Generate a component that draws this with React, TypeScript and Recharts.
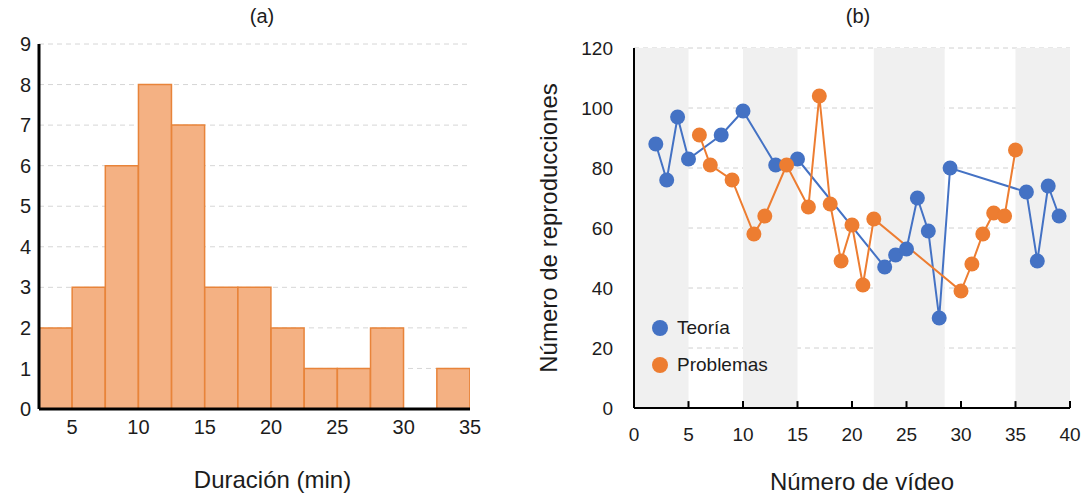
import React from 'react';
import {
  BarChart,
  Bar,
  XAxis,
  YAxis,
  CartesianGrid,
  LineChart,
  Line,
  ReferenceArea,
  ReferenceLine,
  Legend,
} from 'recharts';

// ---- Panel (a): histogram of video durations ----
const binCenters = [3.75, 6.25, 8.75, 11.25, 13.75, 16.25, 18.75, 21.25, 23.75, 26.25, 28.75, 31.25, 33.75];
const binCounts = [2, 3, 6, 8, 7, 3, 3, 2, 1, 1, 2, 0, 1];
const durationTicks = [5, 10, 15, 20, 25, 30, 35];
const countTicks = [0, 1, 2, 3, 4, 5, 6, 7, 8, 9];

// ---- Panel (b): views per video ----
const seriesNames = ['Teoría', 'Problemas'];
const teoriaVideo = [2, 3, 4, 5, 8, 10, 13, 15, 23, 24, 25, 26, 27, 28, 29, 36, 37, 38, 39];
const teoriaViews = [88, 76, 97, 83, 91, 99, 81, 83, 47, 51, 53, 70, 59, 30, 80, 72, 49, 74, 64];
const problemasVideo = [6, 7, 9, 11, 12, 14, 16, 17, 18, 19, 20, 21, 22, 30, 31, 32, 33, 34, 35];
const problemasViews = [91, 81, 76, 58, 64, 81, 67, 104, 68, 49, 61, 41, 63, 39, 48, 58, 65, 64, 86];
const videoTicks = [0, 5, 10, 15, 20, 25, 30, 35, 40];
const viewTicks = [0, 20, 40, 60, 80, 100, 120];
const bandStarts = [0, 10, 22, 35];
const bandEnds = [5, 15, 28.5, 40];

const histData = binCenters.map((c, i) => ({ center: c, count: binCounts[i] }));
const teoriaData = teoriaVideo.map((v, i) => ({ video: v, views: teoriaViews[i] }));
const problemasData = problemasVideo.map((v, i) => ({ video: v, views: problemasViews[i] }));

const FONT = '"Liberation Sans", Arial, sans-serif';
const TEXT = '#1c1c1c';
const BLUE = '#4472C4';
const ORANGE = '#ED7D31';

const LegendContent = (props: any) => {
  const payload = [...(props.payload || [])].sort(
    (a: any, b: any) => seriesNames.indexOf(a.value) - seriesNames.indexOf(b.value)
  );
  return (
    <div style={{ fontFamily: FONT, fontSize: 19, color: TEXT }}>
      {payload.map((p: any) => (
        <div key={p.value} style={{ display: 'flex', alignItems: 'center', height: 37 }}>
          <svg width={20} height={20} style={{ marginRight: 7 }}>
            <circle cx={10} cy={10} r={8} fill={p.color} />
          </svg>
          <span>{p.value}</span>
        </div>
      ))}
    </div>
  );
};

export default function App() {
  return (
    <div style={{ position: 'absolute', left: 0, top: 0, width: 1085, height: 498, background: '#fff', fontFamily: FONT }}>
      <div style={{ position: 'absolute', left: 0, top: 0, width: 520, height: 498 }}>
        <div style={{ position: 'absolute', left: 242, top: 5, width: 40, textAlign: 'center', fontSize: 20, color: TEXT }}>(a)</div>
        <BarChart
          width={520}
          height={498}
          data={histData}
          margin={{ top: 44, right: 50, left: 0, bottom: 0 }}
          barCategoryGap={0}
          barGap={0}
        >
          <CartesianGrid vertical={false} stroke="#D6D6D6" strokeDasharray="5 4" />
          <XAxis
            dataKey="center"
            type="number"
            domain={[2.5, 35]}
            ticks={durationTicks}
            allowDataOverflow
            height={89}
            tickLine={false}
            tickMargin={5}
            axisLine={{ stroke: '#000', strokeWidth: 3 }}
            tick={{ fill: TEXT, fontSize: 20, fontFamily: FONT }}
            label={{ value: 'Duración (min)', position: 'insideBottom', offset: 10, dx: 18, fill: TEXT, fontSize: 24, fontFamily: FONT }}
          />
          <YAxis
            domain={[0, 9]}
            ticks={countTicks}
            width={39}
            tickLine={false}
            axisLine={{ stroke: '#000', strokeWidth: 3 }}
            tick={{ fill: TEXT, fontSize: 20, fontFamily: FONT }}
          />
          <Bar dataKey="count" fill="#F4B183" stroke="#E8843A" strokeWidth={1.5} isAnimationActive={false} />
        </BarChart>
      </div>

      <div style={{ position: 'absolute', left: 520, top: 0, width: 565, height: 498 }}>
        <div style={{ position: 'absolute', left: 318, top: 5, width: 40, textAlign: 'center', fontSize: 20, color: TEXT }}>(b)</div>
        <LineChart width={565} height={498} margin={{ top: 48, right: 15, left: 0, bottom: 0 }}>
          {bandStarts.map((s, i) => (
            <ReferenceArea key={i} x1={s} x2={bandEnds[i]} y1={0} y2={120} fill="#F0F0F0" fillOpacity={1} stroke="none" ifOverflow="hidden" />
          ))}
          <CartesianGrid vertical={false} stroke="#D0D0D0" strokeDasharray="5 4" />
          {videoTicks.map((t) => (
            <ReferenceLine
              key={'tk' + t}
              segment={[{ x: t, y: 0 }, { x: t, y: 2.3 }]}
              stroke="#000"
              strokeWidth={2}
              ifOverflow="visible"
            />
          ))}
          <XAxis
            dataKey="video"
            type="number"
            domain={[0, 40]}
            ticks={videoTicks}
            allowDuplicatedCategory={false}
            height={90}
            tickSize={0}
            tickMargin={20}
            tickLine={false}
            axisLine={{ stroke: '#000', strokeWidth: 2 }}
            tick={{ fill: TEXT, fontSize: 19, fontFamily: FONT }}
            label={{ value: 'Número de vídeo', position: 'insideBottom', offset: 8, dx: 10, fill: TEXT, fontSize: 24, fontFamily: FONT }}
          />
          <YAxis
            domain={[0, 120]}
            ticks={viewTicks}
            width={114}
            tickLine={false}
            tickMargin={15}
            axisLine={{ stroke: '#000', strokeWidth: 2 }}
            tick={{ fill: TEXT, fontSize: 19, fontFamily: FONT }}
            label={{ value: 'Número de reproducciones', angle: -90, position: 'insideLeft', offset: 28, style: { textAnchor: 'middle' }, fill: TEXT, fontSize: 24, fontFamily: FONT }}
          />
          <Legend
            layout="vertical"
            align="center"
            verticalAlign="middle"
            content={LegendContent}
            wrapperStyle={{ left: 130, top: 309, width: 160, height: 80 }}
          />
          <Line
            data={teoriaData}
            dataKey="views"
            name="Teoría"
            stroke={BLUE}
            strokeWidth={2}
            dot={{ r: 7.5, fill: BLUE, stroke: BLUE, strokeWidth: 0 }}
            activeDot={false}
            isAnimationActive={false}
          />
          <Line
            data={problemasData}
            dataKey="views"
            name="Problemas"
            stroke={ORANGE}
            strokeWidth={2}
            dot={{ r: 7.5, fill: ORANGE, stroke: ORANGE, strokeWidth: 0 }}
            activeDot={false}
            isAnimationActive={false}
          />
        </LineChart>
      </div>
    </div>
  );
}
